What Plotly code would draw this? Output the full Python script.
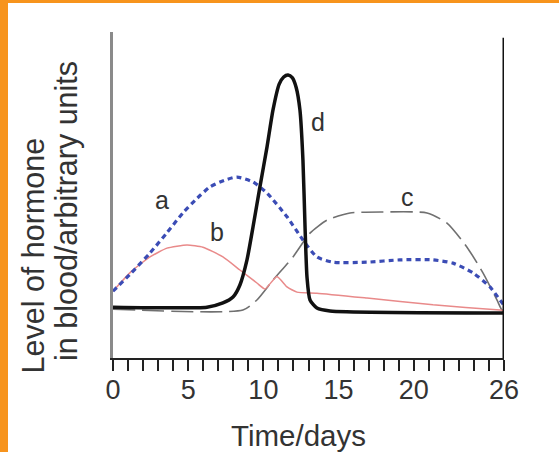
import plotly.graph_objects as go

# Hormone levels over a 26-day cycle (arbitrary units)
a_days = [0, 1.2, 2.46, 3.6, 4.65, 5.6, 6.45, 7.4, 8.24, 9.31, 10.24, 11.57, 12.63, 13.56, 14.63, 16.89, 19.08, 21.28, 22.61, 23.94, 25.07, 25.73, 26]
a_vals = [2.05, 2.6, 3.22, 3.85, 4.45, 4.9, 5.25, 5.45, 5.55, 5.40, 5.06, 4.33, 3.62, 3.10, 2.94, 2.94, 3.01, 3.01, 2.91, 2.61, 2.18, 1.78, 1.62]

b_days = [0, 1.2, 2.46, 3.59, 4.92, 5.98, 7.31, 8.44, 9.57, 10.11, 10.9, 11.57, 12.23, 13.56, 16.89, 21.28, 25.73, 26]
b_vals = [2.05, 2.65, 3.10, 3.37, 3.47, 3.40, 3.10, 2.70, 2.30, 2.12, 2.50, 2.18, 2.02, 1.99, 1.84, 1.63, 1.47, 1.45]

c_days = [0, 8.64, 9.57, 10.64, 11.97, 13.1, 14.23, 15.76, 17.95, 20.88, 22.21, 23.54, 24.6, 25.53, 25.86, 26]
c_vals = [1.50, 1.47, 1.78, 2.39, 3.10, 3.83, 4.23, 4.45, 4.48, 4.45, 4.14, 3.40, 2.61, 1.78, 1.47, 1.42]

d_days = [0, 6.25, 7.31, 7.98, 8.44, 8.91, 9.31, 9.77, 10.24, 10.64, 11.05, 11.35, 11.64, 11.92, 12.18, 12.43, 12.63, 12.77, 12.9, 13.1, 13.56, 14.43, 26]
d_vals = [1.56, 1.56, 1.69, 1.87, 2.24, 3.01, 4.02, 5.25, 6.47, 7.61, 8.40, 8.62, 8.68, 8.60, 8.30, 7.61, 6.07, 4.02, 2.48, 1.78, 1.53, 1.44, 1.38]

curve_labels = ["a", "b", "c", "d"]
label_pos = [(3.26, 4.85), (6.91, 3.87), (19.55, 4.94), (13.63, 7.24)]

tick_days = list(range(27))
tick_text = [str(t) if t in (0, 5, 10, 15, 20, 26) else "" for t in tick_days]

FONT = "Liberation Sans"
TXT = "#333333"

fig = go.Figure()
fig.add_trace(go.Scatter(x=c_days, y=c_vals, mode="lines",
                         line=dict(color="#707070", width=1.6, dash="22px,7px", shape="spline", smoothing=0.6)))
fig.add_trace(go.Scatter(x=b_days, y=b_vals, mode="lines",
                         line=dict(color="#e98a8a", width=1.5, shape="spline", smoothing=0.5)))
fig.add_trace(go.Scatter(x=a_days, y=a_vals, mode="lines",
                         line=dict(color="#3b4cb5", width=3.2, dash="5px,4px", shape="spline", smoothing=0.6)))
fig.add_trace(go.Scatter(x=d_days, y=d_vals, mode="lines",
                         line=dict(color="#111111", width=3.5, shape="spline", smoothing=0.6)))

for txt, (lx, ly) in zip(curve_labels, label_pos):
    fig.add_annotation(x=lx, y=ly, text=txt, showarrow=False,
                       font=dict(family=FONT, size=25, color=TXT))

# right-hand boundary line at day 26
fig.add_shape(type="line", xref="x", yref="y", x0=26, x1=26, y0=-0.1, y1=9.82,
              line=dict(color="#111111", width=3))

# orange frame on the left and top edges
PW, PH = 391.0, 326.0
fig.add_shape(type="rect", xref="paper", yref="paper", x0=-113 / PW, x1=(8 - 113) / PW,
              y0=-94 / PH, y1=358 / PH, line_width=0, fillcolor="#f7941d", layer="above")
fig.add_shape(type="rect", xref="paper", yref="paper", x0=-113 / PW, x1=(559 - 113) / PW,
              y0=(358 - 3) / PH, y1=358 / PH, line_width=0, fillcolor="#f7941d", layer="above")

# axis titles
fig.add_annotation(xref="paper", yref="paper", x=(298 - 113) / PW, y=(358 - 435) / PH,
                   xanchor="center", yanchor="middle",
                   text="Time/days", showarrow=False, font=dict(family=FONT, size=29.5, color=TXT))
fig.add_annotation(xref="paper", yref="paper", x=(33 - 113) / PW, y=(358 - 255.5) / PH,
                   xanchor="center", yanchor="middle",
                   text="Level of hormone", textangle=-90, showarrow=False,
                   font=dict(family=FONT, size=30.5, color=TXT))
fig.add_annotation(xref="paper", yref="paper", x=(67 - 113) / PW, y=(358 - 211) / PH,
                   xanchor="center", yanchor="middle",
                   text="in blood/arbitrary units", textangle=-90, showarrow=False,
                   font=dict(family=FONT, size=30.5, color=TXT))

fig.update_layout(
    width=559, height=452,
    margin=dict(l=113, r=55, t=32, b=94),
    paper_bgcolor="white", plot_bgcolor="white",
    showlegend=False,
    xaxis=dict(range=[0, 26], tickvals=tick_days, ticktext=tick_text,
               ticks="outside", ticklen=11, tickwidth=1.5, tickcolor="#222",
               showline=True, linecolor="#222", linewidth=2,
               showgrid=False, zeroline=False, ticklabelstandoff=-4,
               tickfont=dict(family=FONT, size=27, color=TXT)),
    yaxis=dict(range=[0, 10], showticklabels=False, ticks="",
               showline=True, linecolor="#8a8a8a", linewidth=3,
               showgrid=False, zeroline=False),
)

fig.write_html("out.html")
